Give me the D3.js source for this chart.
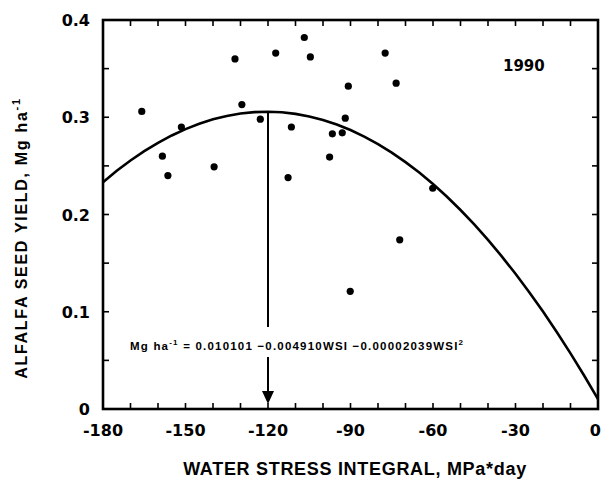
<!DOCTYPE html>
<html>
<head>
<meta charset="utf-8">
<script src="https://cdn.jsdelivr.net/npm/d3@7"></script>
<style>
  body { margin: 0; background: #fff; }
  text { fill: #000; }
</style>
</head>
<body>
<script>
// observed points, 1990 (water stress integral vs seed yield)
var wsi   = [-165.9, -158.4, -156.4, -151.5, -139.6, -132.0, -129.5, -122.8, -117.2, -112.7,
             -111.5, -106.8, -104.6, -97.6, -96.6, -93.0, -91.9, -90.8, -90.1, -77.4,
             -73.4, -72.1, -60.1];
var yield_ = [0.306, 0.260, 0.240, 0.290, 0.249, 0.360, 0.313, 0.298, 0.366, 0.238,
              0.290, 0.382, 0.362, 0.259, 0.283, 0.284, 0.299, 0.332, 0.121, 0.366,
              0.335, 0.174, 0.227];

// fitted quadratic shown on the chart: a + b*WSI + c*WSI^2
var coef = [0.010101, -0.004910, -0.00002039];
var optimum = -120;

var xTicks = [-180, -150, -120, -90, -60, -30, 0];
var yTicks = [0, 0.1, 0.2, 0.3, 0.4];

var W = 602, H = 480;
var m = {left: 103, right: 4, top: 20, bottom: 71};

var svg = d3.select('body').append('svg')
  .attr('width', W)
  .attr('height', H);

var x = d3.scaleLinear().domain([-180, 0]).range([m.left, W - m.right]);
var y = d3.scaleLinear().domain([0, 0.4]).range([H - m.bottom, m.top]);

function fit(w) { return coef[0] + coef[1] * w + coef[2] * w * w; }

var tickFont = 'DejaVu Sans, sans-serif';

// minor ticks (inside) on all four sides
var xMinor = d3.range(-170, 0, 10);
var yMinor = d3.range(0.05, 0.4, 0.05);

var ticks = svg.append('g').attr('stroke', '#000').attr('stroke-width', 1.6);
ticks.selectAll('.bt').data(xMinor).enter().append('line')
  .attr('x1', function(d) { return x(d); }).attr('x2', function(d) { return x(d); })
  .attr('y1', y(0)).attr('y2', y(0) - 6);
ticks.selectAll('.tt').data(xMinor).enter().append('line')
  .attr('x1', function(d) { return x(d); }).attr('x2', function(d) { return x(d); })
  .attr('y1', y(0.4)).attr('y2', y(0.4) + 6);
ticks.selectAll('.lt').data(yMinor).enter().append('line')
  .attr('y1', function(d) { return y(d); }).attr('y2', function(d) { return y(d); })
  .attr('x1', x(-180)).attr('x2', x(-180) + 6);
ticks.selectAll('.rt').data(yMinor).enter().append('line')
  .attr('y1', function(d) { return y(d); }).attr('y2', function(d) { return y(d); })
  .attr('x1', x(0)).attr('x2', x(0) - 6);

// frame
svg.append('rect')
  .attr('x', x(-180)).attr('y', y(0.4))
  .attr('width', x(0) - x(-180)).attr('height', y(0) - y(0.4))
  .attr('fill', 'none').attr('stroke', '#000').attr('stroke-width', 2.6);

// tick labels (the last one sits against the right edge)
svg.selectAll('.xl').data(xTicks).enter().append('text')
  .attr('x', function(d) { return d === 0 ? W - 1 : x(d); })
  .attr('y', y(0) + 27)
  .attr('text-anchor', function(d) { return d === 0 ? 'end' : 'middle'; })
  .style('font-family', tickFont).style('font-weight', 'bold').style('font-size', '16px')
  .text(function(d) { return d; });

svg.selectAll('.yl').data(yTicks).enter().append('text')
  .attr('x', m.left - 13)
  .attr('y', function(d) { return y(d) + 6; })
  .attr('text-anchor', 'end')
  .style('font-family', tickFont).style('font-weight', 'bold').style('font-size', '16px')
  .text(function(d) { return d === 0 ? '0' : d3.format('.1f')(d); });

// axis titles
svg.append('text')
  .attr('x', 355).attr('y', 475)
  .attr('text-anchor', 'middle')
  .style('font-family', 'Liberation Sans, Arial, sans-serif').style('font-weight', 'bold')
  .style('font-size', '18px').style('letter-spacing', '0.7px')
  .text('WATER STRESS INTEGRAL, MPa*day');

var yt = svg.append('text')
  .attr('transform', 'translate(27,238) rotate(-90)')
  .attr('text-anchor', 'middle')
  .style('font-family', 'Liberation Sans, Arial, sans-serif').style('font-weight', 'bold')
  .style('font-size', '16px').style('letter-spacing', '1.7px');
yt.append('tspan').text('ALFALFA SEED YIELD, Mg ha');
yt.append('tspan').attr('dy', -7).style('font-size', '11px').text('-1');

// year label
svg.append('text')
  .attr('x', 503).attr('y', 71)
  .style('font-family', tickFont).style('font-weight', 'bold').style('font-size', '15px')
  .text('1990');

// fitted curve
var curveX = d3.range(-180, 0.1, 5);
var line = d3.line()
  .x(function(d) { return x(d); })
  .y(function(d) { return y(fit(d)); });
svg.append('path')
  .datum(curveX)
  .attr('d', line)
  .attr('fill', 'none').attr('stroke', '#000').attr('stroke-width', 2.6);

// arrow from optimum down to the axis
svg.append('line')
  .attr('x1', x(optimum)).attr('x2', x(optimum))
  .attr('y1', y(fit(optimum))).attr('y2', y(0) - 16)
  .attr('stroke', '#000').attr('stroke-width', 2);
svg.append('path')
  .attr('d', 'M' + (x(optimum) - 6) + ',' + (y(0) - 18) + 'L' + (x(optimum) + 6) + ',' + (y(0) - 18) +
             'L' + x(optimum) + ',' + (y(0) - 5) + 'Z')
  .attr('fill', '#000');

// equation, on a white band that cuts the arrow
var eq = svg.append('g');
var eqBg = eq.append('rect').attr('fill', '#fff');
var eqText = eq.append('text')
  .attr('x', 130).attr('y', 350)
  .style('font-family', 'Liberation Sans, Arial, sans-serif').style('font-weight', 'bold')
  .style('font-size', '11.5px').style('letter-spacing', '1.2px');
eqText.append('tspan').text('Mg  ha');
eqText.append('tspan').attr('dy', -5).style('font-size', '8px').text('-1');
eqText.append('tspan').attr('dy', 5).text('  =  0.010101  \u22120.004910WSI  \u22120.00002039WSI');
eqText.append('tspan').attr('dy', -5).style('font-size', '8px').text('2');
var bb = eqText.node().getBBox();
eqBg.attr('x', bb.x - 2).attr('y', 327).attr('width', bb.width + 4).attr('height', 30);

// data points
svg.selectAll('.pt').data(wsi).enter().append('circle')
  .attr('cx', function(d) { return x(d); })
  .attr('cy', function(d, i) { return y(yield_[i]); })
  .attr('r', 3.6)
  .attr('fill', '#000');
</script>
</body>
</html>
